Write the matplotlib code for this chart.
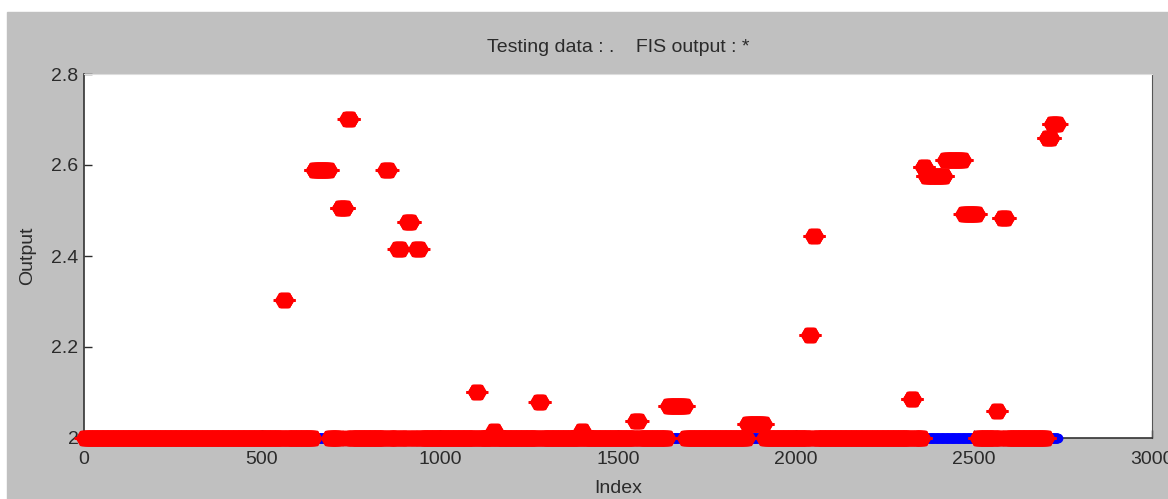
"""Testing data vs FIS output, MATLAB-style scatter."""
import matplotlib
matplotlib.use("Agg")
import matplotlib.pyplot as plt
from matplotlib.patches import Rectangle
import numpy as np

# ── data ──────────────────────────────────────────────────────────────────────
n_samples = 2735          # number of test samples (index 1..n)
target_value = 2.0        # testing data: every sample sits at 2

# FIS output departs from 2 on these index ranges: (start, end, value)
fis_start = [560, 645, 718, 740, 846, 880, 907, 933, 1100, 1150, 1276, 1396,
             1548, 1640, 1862, 2036, 2048, 2322, 2356, 2364, 2418, 2470,
             2562, 2578, 2704, 2718]
fis_end   = [566, 688, 734, 748, 856, 890, 919, 943, 1106, 1155, 1284, 1402,
             1558, 1688, 1910, 2042, 2054, 2330, 2364, 2418, 2470, 2509,
             2568, 2590, 2718, 2735]
fis_value = [2.304, 2.59, 2.505, 2.70, 2.59, 2.415, 2.475, 2.415, 2.10, 2.015,
             2.08, 2.015, 2.037, 2.07, 2.03, 2.227, 2.444, 2.085, 2.596,
             2.575, 2.61, 2.493, 2.06, 2.484, 2.66, 2.69]

xticks = [0, 500, 1000, 1500, 2000, 2500, 3000]
yticks = [2.0, 2.2, 2.4, 2.6, 2.8]
ytick_labels = ["2", "2.2", "2.4", "2.6", "2.8"]

idx = np.arange(1, n_samples + 1)
test_out = np.full(n_samples, target_value)
fis_out = np.full(n_samples, target_value)
for s, e, v in zip(fis_start, fis_end, fis_value):
    fis_out[(idx >= s) & (idx <= e)] = v

# ── figure ────────────────────────────────────────────────────────────────────
plt.rcParams["font.family"] = ["Liberation Sans", "DejaVu Sans"]
TXT = "#2b2b2b"
FS = 14
RED = "#ff0000"

fig = plt.figure(figsize=(11.68, 4.99), dpi=100)
fig.patch.set_facecolor("white")
fig.patches.append(Rectangle((7 / 1168, 0), 1, 1 - 12 / 499,
                             transform=fig.transFigure, color="#c0c0c0",
                             zorder=-10))

ax = fig.add_axes([84 / 1168, 1 - 438 / 499, (1152 - 84) / 1168, (438 - 74) / 499])
ax.set_facecolor("white")

ax.plot(idx, test_out, ls="none", marker="o", ms=6, color="#0000ff",
        mec="#0000ff", clip_on=False, zorder=3)
# MATLAB's thick '*' renders as a hexagon-ish blob with short horizontal spikes
ax.plot(idx, fis_out, ls="none", marker="H", ms=11.5, mew=1,
        color=RED, mec=RED, clip_on=False, zorder=4)
ax.plot(idx, fis_out, ls="none", marker="_", ms=14, mew=2,
        color=RED, clip_on=False, zorder=4)

ax.set_xlim(0, 3000)
ax.set_ylim(2.0, 2.8)
ax.set_xticks(xticks)
ax.set_yticks(yticks)
ax.set_yticklabels(ytick_labels)
ax.tick_params(direction="in", length=6, width=1, colors=TXT, labelsize=FS,
               top=False, right=False)
ax.tick_params(axis="x", pad=9)
ax.tick_params(axis="y", pad=4)
for side in ("left", "bottom"):
    ax.spines[side].set_color("#333333")
    ax.spines[side].set_linewidth(1.2)
ax.spines["top"].set_color("#dddddd")
ax.spines["right"].set_color("#555555")

ax.set_title("Testing data : .    FIS output : *", fontsize=FS, color=TXT, pad=16)
ax.set_xlabel("Index", fontsize=FS, color=TXT, labelpad=9)
ax.set_ylabel("Output", fontsize=FS, color=TXT, labelpad=11)

fig.savefig("out.png", dpi=100)
